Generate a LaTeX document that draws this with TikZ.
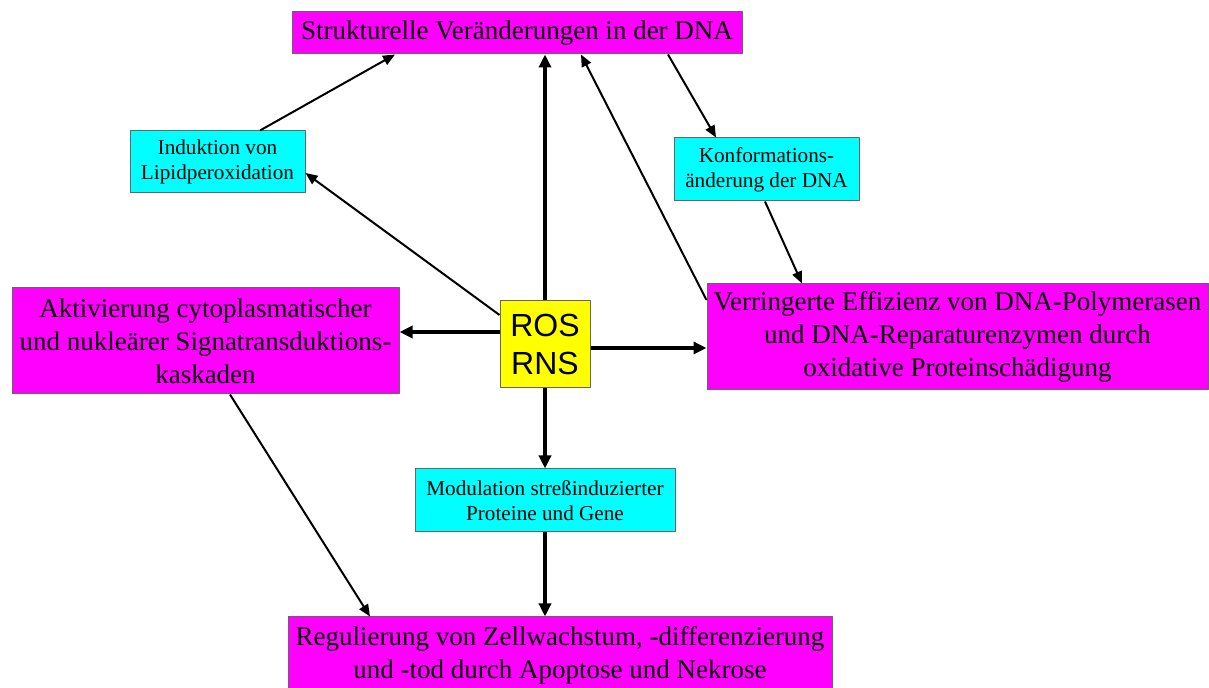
\documentclass[tikz,border=0pt]{standalone}
\usepackage{fontspec}
\setmainfont{Liberation Serif}
\newfontfamily\arialfont{Liberation Sans}
\usetikzlibrary{arrows.meta}
\definecolor{boxmagenta}{RGB}{255,0,255}
\definecolor{boxcyan}{RGB}{0,255,255}
\definecolor{boxyellow}{RGB}{255,255,0}
\begin{document}
\begin{tikzpicture}[x=0.5pt,y=-0.5pt, line join=round,
        box/.style={draw=black!60, line width=0.5pt, inner sep=0pt, align=center},
        bigbox/.style={box, fill=boxmagenta, font=\fontsize{13.5}{16.5}\selectfont},
        smallbox/.style={box, fill=boxcyan, font=\fontsize{10.6}{12.5}\selectfont},
        rosbox/.style={box, fill=boxyellow, font=\arialfont\fontsize{16}{19}\selectfont},
        fine/.style={-{Triangle[length=6pt,width=5pt]}, line width=1pt},
        heavy/.style={-{Triangle[length=6.5pt,width=6pt]}, line width=2pt}]
        \clip (0,0) rectangle (1209,688);
        \node[bigbox, minimum width=225pt, minimum height=21pt] (dna) at (517,33) {Strukturelle Veränderungen in der DNA};
        \node[smallbox, minimum width=87.5pt, minimum height=31pt] (lipid) at (217.5,162) {Induktion von\\Lipidperoxidation};
        \node[smallbox, minimum width=92.5pt, minimum height=31.5pt] (konf) at (766.5,169.5) {Konformations-\\änderung der DNA};
        \node[bigbox, minimum width=193.5pt, minimum height=53pt] (signal) at (205.5,341) {Aktivierung cytoplasmatischer\\und nukleärer Signatransduktions-\\kaskaden};
        \node[rosbox, minimum width=45pt, minimum height=43.5pt] (ros) at (545,344.5) {ROS\\RNS};
        \node[bigbox, minimum width=250.5pt, minimum height=53pt] (poly) at (957.5,337) {Verringerte Effizienz von DNA-Polymerasen\\und DNA-Reparaturenzymen durch\\oxidative Proteinschädigung};
        \node[smallbox, minimum width=130pt, minimum height=31.5pt] (modul) at (545,500.5) {Modulation streßinduzierter\\Proteine und Gene};
        \node[bigbox, minimum width=272pt, minimum height=38pt] (regul) at (560,655) {Regulierung von Zellwachstum, -differenzierung\\und -tod durch Apoptose und Nekrose};

        \draw[heavy] (ros.north) -- (ros.north |- dna.south);
        \draw[heavy] (ros.west |- 0,332) -- (signal.east |- 0,332);
        \draw[heavy] (ros.east |- 0,348) -- (poly.west |- 0,348);
        \draw[heavy] (ros.south) -- (ros.south |- modul.north);
        \draw[heavy] (modul.south) -- (modul.south |- regul.north);
        \draw[fine] (ros.west |- 0,315) -- (lipid.east |- 0,173);
        \draw[fine] (lipid.north -| 260,0) -- (dna.south -| 395,0);
        \draw[fine] (dna.south -| 668,0) -- (konf.north -| 716,0);
        \draw[fine] (konf.south -| 765,0) -- (poly.north -| 802,0);
        \draw[fine] (poly.west |- 0,300) -- (dna.south -| 581,0);
        \draw[fine] (signal.south -| 230,0) -- (regul.north -| 370,0);
    \end{tikzpicture}
\end{document}
